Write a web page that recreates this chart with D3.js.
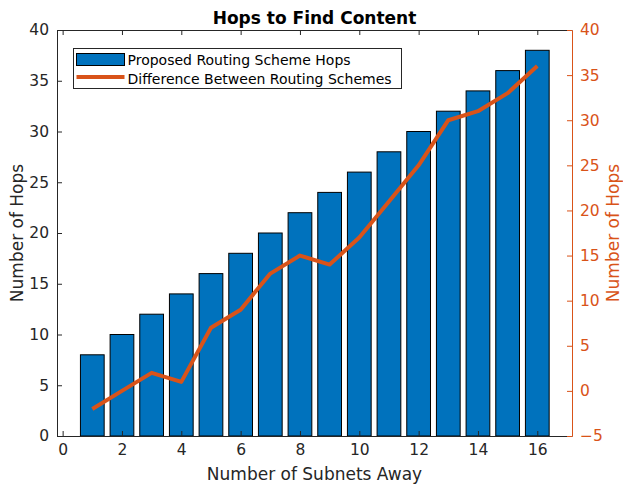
<!DOCTYPE html>
<html><head><meta charset="utf-8">
<script src="https://cdn.jsdelivr.net/npm/d3@7"></script>
<style>body{margin:0;background:#fff;} svg{display:block;font-family:"DejaVu Sans",sans-serif;}</style>
</head><body>
<div id="chart"></div>
<script>
const subnets = [1,2,3,4,5,6,7,8,9,10,11,12,13,14,15,16];
const proposedHops = [8,10,12,14,16,18,20,22,24,26,28,30,32,34,36,38];
const differenceHops = [-2,0,2,1,7,9,13,15,14,17,21,25,30,31,33,36];
const xTicks = [0,2,4,6,8,10,12,14,16];
const leftTicks = [0,5,10,15,20,25,30,35,40];
const rightTicks = [-5,0,5,10,15,20,25,30,35,40];
const seriesNames = ["Proposed Routing Scheme Hops","Difference Between Routing Schemes"];

(function(){
const W = 623, H = 485;
const m = {left:57, right:51, top:30, bottom:49};
const iw = W - m.left - m.right, ih = H - m.top - m.bottom;
const blue = "#0072BD", orange = "#D95319", axc = "#262626";

const svg = d3.select("#chart").append("svg").attr("width",W).attr("height",H);
const g = svg.append("g").attr("transform",`translate(${m.left},${m.top})`);

const x = d3.scaleLinear().domain([-0.19,17.17]).range([0,iw]);
const yL = d3.scaleLinear().domain([0,40]).range([ih,0]);
const yR = d3.scaleLinear().domain([-5,40]).range([ih,0]);

const bw = 0.8;
g.selectAll("rect.bar").data(subnets).join("rect").attr("class","bar")
  .attr("x", (d)=>x(d-bw/2)).attr("width", x(bw)-x(0))
  .attr("y", (d,i)=>yL(proposedHops[i])).attr("height",(d,i)=>yL(0)-yL(proposedHops[i]))
  .attr("fill",blue).attr("stroke","#000").attr("stroke-width",1);

const line = d3.line().x((d)=>x(d[0])).y((d)=>yR(d[1]));
g.append("path").datum(subnets.map((d,i)=>[d,differenceHops[i]]))
  .attr("d",line).attr("fill","none").attr("stroke",orange).attr("stroke-width",4)
  .attr("stroke-linejoin","round");

const tickLen = 5;
const fs = "15.5px";
const axB = g.append("g").attr("transform",`translate(0,${ih})`)
  .call(d3.axisBottom(x).tickValues(xTicks).tickSize(-tickLen).tickSizeOuter(0).tickPadding(8));
const axT = g.append("g")
  .call(d3.axisTop(x).tickValues(xTicks).tickSize(-tickLen).tickSizeOuter(0).tickFormat(""));
const axL = g.append("g")
  .call(d3.axisLeft(yL).tickValues(leftTicks).tickSize(-tickLen).tickSizeOuter(0).tickPadding(8));
const axR = g.append("g").attr("transform",`translate(${iw},0)`)
  .call(d3.axisRight(yR).tickValues(rightTicks).tickSize(-tickLen).tickSizeOuter(0).tickPadding(8));

[axB,axT,axL].forEach(a=>{
  a.selectAll("path,line").attr("stroke",axc);
  a.selectAll("text").attr("fill",axc).style("font-size",fs).style("font-family","DejaVu Sans");
});
axR.selectAll("path,line").attr("stroke",orange);
axR.selectAll("text").attr("fill",orange).style("font-size",fs).style("font-family","DejaVu Sans");

svg.append("text").attr("x", m.left+iw/2).attr("y",24).attr("text-anchor","middle")
  .style("font-size","17px").style("font-weight","bold").attr("fill","#000").text("Hops to Find Content");
svg.append("text").attr("x", m.left+iw/2).attr("y",480).attr("text-anchor","middle")
  .style("font-size","17px").attr("fill",axc).text("Number of Subnets Away");
svg.append("text").attr("transform",`translate(23,${m.top+ih/2}) rotate(-90)`).attr("text-anchor","middle")
  .style("font-size","17px").attr("fill",axc).text("Number of Hops");
svg.append("text").attr("transform",`translate(619,${m.top+ih/2}) rotate(-90)`).attr("text-anchor","middle")
  .style("font-size","17px").attr("fill",orange).text("Number of Hops");

const lg = svg.append("g").attr("transform","translate(73.5,48.5)");
lg.append("rect").attr("width",328).attr("height",40).attr("fill","#fff").attr("stroke",axc).attr("stroke-width",1);
lg.append("rect").attr("x",3).attr("y",5).attr("width",48).attr("height",12).attr("fill",blue).attr("stroke","#000");
lg.append("line").attr("x1",3).attr("x2",51).attr("y1",28.5).attr("y2",28.5).attr("stroke",orange).attr("stroke-width",4);
lg.selectAll("text.lt").data(seriesNames).join("text").attr("class","lt")
  .attr("x",54).attr("y",(d,i)=>16+i*19).style("font-size","14px").attr("fill","#000").text(d=>d);
})();
</script>
</body></html>
